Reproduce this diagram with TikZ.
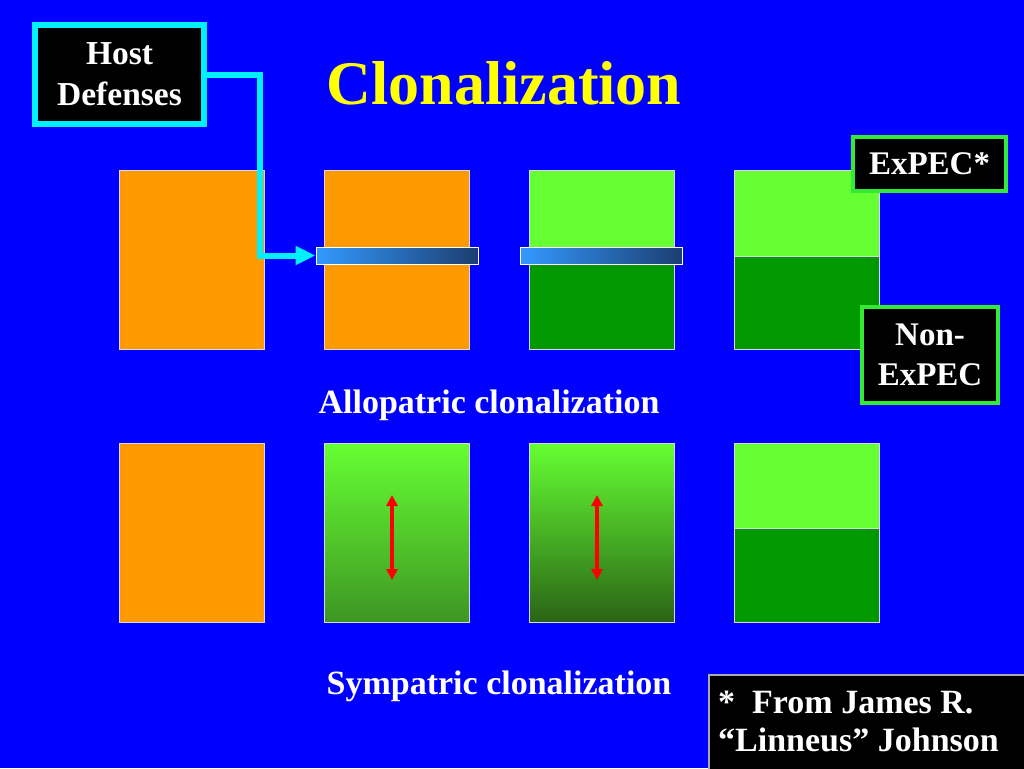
\documentclass[tikz,border=0pt]{standalone}
\usepackage{fontspec}
\setmainfont{Liberation Serif}
\usetikzlibrary{arrows.meta}
\definecolor{bgblue}{RGB}{0,0,255}
\definecolor{orangec}{RGB}{255,153,0}
\definecolor{lightg}{RGB}{102,255,51}
\definecolor{darkg}{RGB}{0,153,0}
\definecolor{cellborder}{RGB}{215,215,225}
\definecolor{barL}{RGB}{51,153,255}
\definecolor{barR}{RGB}{28,62,112}
\definecolor{cyanc}{RGB}{0,240,255}
\definecolor{labgreen}{RGB}{50,235,50}
\definecolor{titley}{RGB}{255,255,0}
\definecolor{gmidA}{RGB}{88,220,46}
\definecolor{gbotA}{RGB}{62,150,35}
\definecolor{gmidB}{RGB}{82,205,43}
\definecolor{gbotB}{RGB}{42,100,22}
\definecolor{footgray}{RGB}{170,170,170}
\tikzset{
  cell/.style={draw=cellborder, line width=1pt, inner sep=0pt, outer sep=0pt,
    minimum width=145pt, anchor=north west},
  fullcell/.style={cell, minimum height=179pt},
  bar/.style={draw=white, line width=1pt, left color=barL, right color=barR,
    inner sep=0pt, minimum width=162pt, minimum height=17pt},
  lab/.style={text=white, align=center, inner sep=0pt, anchor=base,
    font=\fontsize{34}{40}\selectfont\bfseries},
  hostbox/.style={draw=cyanc, line width=6pt, fill=black, minimum width=169pt,
    minimum height=99pt, inner sep=0pt, text=white, align=center,
    font=\fontsize{33.5}{41}\selectfont\bfseries},
  tagbox/.style={draw=labgreen, line width=4pt, fill=black, inner sep=0pt,
    text=white, align=center, font=\fontsize{33}{40}\selectfont\bfseries},
  link/.style={draw=cyanc, line width=6pt, -{Triangle[length=20pt,width=18pt]}},
  redarr/.style={draw=red, line width=3.5pt, {Triangle[length=11pt,width=11pt]}-{Triangle[length=11pt,width=11pt]}},
}
\begin{document}
\begin{tikzpicture}[x=1pt,y=-1pt]
\useasboundingbox (0,0) rectangle (1024,768);
\fill[bgblue] (0,0) rectangle (1024,768);

% title
\node[text=titley, font=\fontsize{62}{70}\selectfont\bfseries, inner sep=0pt] (title) at (504,83) {Clonalization};

% row 1
\node[fullcell, fill=orangec] (r1a) at (119,170) {};
\node[fullcell, fill=orangec] (r1b) at (324,170) {};
\node[cell, fill=lightg, minimum height=86pt] (r1ct) at (529,170) {};
\node[cell, fill=darkg, minimum height=93pt] (r1cb) at (529,256) {};
\node[cell, fill=lightg, minimum height=86pt] (r1dt) at (734,170) {};
\node[cell, fill=darkg, minimum height=93pt] (r1db) at (734,256) {};

\node[bar] (bar2) at (397,255.5) {};
\node[bar] (bar3) at (601.5,255.5) {};

% row 2
\node[fullcell, fill=orangec] (r2a) at (119,443) {};
\node[fullcell, top color=lightg, middle color=gmidA, bottom color=gbotA] (r2b) at (324,443) {};
\node[fullcell, top color=lightg, middle color=gmidB, bottom color=gbotB] (r2c) at (529,443) {};
\node[cell, fill=lightg, minimum height=85pt] (r2dt) at (734,443) {};
\node[cell, fill=darkg, minimum height=94pt] (r2db) at (734,528) {};

% red double arrows
\coordinate (a2t) at (392,495);
\coordinate (a2b) at (392,580);
\coordinate (a3t) at (597,495);
\coordinate (a3b) at (597,580);
\draw[redarr] (a2t) -- (a2b);
\draw[redarr] (a3t) -- (a3b);

% host defenses
\node[hostbox] (host) at (119.5,74.5) {Host\\Defenses};
\draw[link] (host.east) -- ++(53,0) |- (bar2.west);

% tags
\node[tagbox, minimum width=153pt, minimum height=54pt] (expec) at (929.5,164) {ExPEC*};
\node[tagbox, minimum width=136pt, minimum height=96pt] (nonexpec) at (930,355) {Non-\\ExPEC};

% captions
\node[lab] (allo) at (489,413) {Allopatric clonalization};
\node[lab] (symp) at (499,694) {Sympatric clonalization};

% footnote
\node[draw=footgray, line width=1.5pt, fill=black, anchor=north west, minimum width=330pt,
  minimum height=110pt, inner sep=0pt] (footbox) at (708,674) {};
\node[text=white, align=left, anchor=north west, inner sep=0pt,
  font=\fontsize{34}{38}\selectfont\bfseries] (foot) at (718,691) {*\ \ From James R.\\``Linneus'' Johnson};
\end{tikzpicture}
\end{document}
